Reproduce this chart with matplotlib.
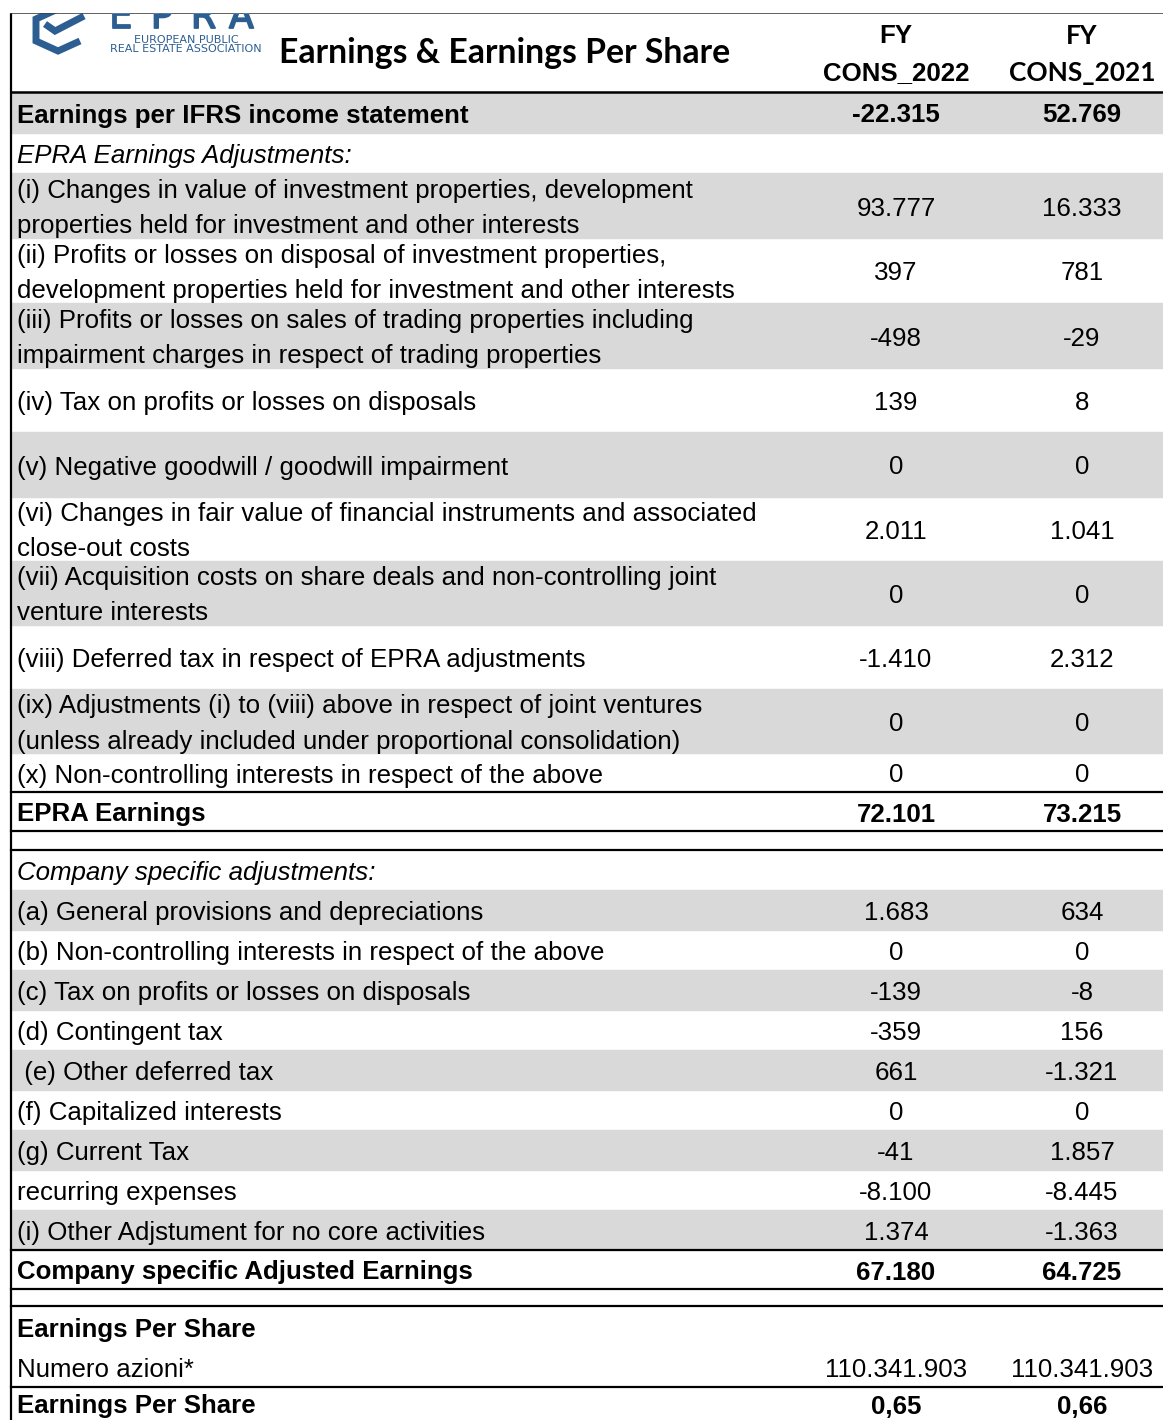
import matplotlib
matplotlib.use("Agg")
import matplotlib.pyplot as plt
import matplotlib.patheffects as pe
from matplotlib.patches import Rectangle

W, H = 1163, 1420

# ── Table data ─────────────────────────────────────
labels = [
    "Earnings per IFRS income statement",
    "EPRA Earnings Adjustments:",
    "(i) Changes in value of investment properties, development\nproperties held for investment and other interests",
    "(ii) Profits or losses on disposal of investment properties,\ndevelopment properties held for investment and other interests",
    "(iii) Profits or losses on sales of trading properties including\nimpairment charges in respect of trading properties",
    "(iv) Tax on profits or losses on disposals",
    "(v) Negative goodwill / goodwill impairment",
    "(vi) Changes in fair value of financial instruments and associated\nclose-out costs",
    "(vii) Acquisition costs on share deals and non-controlling joint\nventure interests",
    "(viii) Deferred tax in respect of EPRA adjustments",
    "(ix) Adjustments (i) to (viii) above in respect of joint ventures\n(unless already included under proportional consolidation)",
    "(x) Non-controlling interests in respect of the above",
    "EPRA Earnings",
    "",
    "Company specific adjustments:",
    "(a) General provisions and depreciations",
    "(b) Non-controlling interests in respect of the above",
    "(c) Tax on profits or losses on disposals",
    "(d) Contingent tax",
    " (e) Other deferred tax",
    "(f) Capitalized interests",
    "(g) Current Tax",
    "recurring expenses",
    "(i) Other Adjstument for no core activities",
    "Company specific Adjusted Earnings",
    "",
    "Earnings Per Share",
    "Numero azioni*",
    "Earnings Per Share",
]
fy2022 = ["-22.315", "", "93.777", "397", "-498", "139", "0", "2.011", "0",
          "-1.410", "0", "0", "72.101", "", "", "1.683", "0", "-139", "-359",
          "661", "0", "-41", "-8.100", "1.374", "67.180", "", "", "110.341.903",
          "0,65"]
fy2021 = ["52.769", "", "16.333", "781", "-29", "8", "0", "1.041", "0",
          "2.312", "0", "0", "73.215", "", "", "634", "0", "-8", "156",
          "-1.321", "0", "1.857", "-8.445", "-1.363", "64.725", "", "",
          "110.341.903", "0,66"]
col_headers = ["FY\nCONS_2022", "FY\nCONS_2021"]
title = "Earnings & Earnings Per Share"
logo_letters = ["E", "P", "R", "A"]
logo_lines = ["EUROPEAN PUBLIC", "REAL ESTATE ASSOCIATION"]

# ── Layout / styles (pixels) ───────────────────────
row_heights = [41, 40, 65, 65, 65, 64, 65, 64, 64, 64, 64, 39, 39, 19, 40,
               40, 40, 40, 40, 40, 40, 40, 40, 40, 39, 17, 41, 40, 33]
gray_rows = {0, 2, 4, 6, 8, 10, 15, 17, 19, 21, 23}
bold_rows = {0, 12, 24, 26, 28}
italic_rows = {1, 14}
line_below = {11, 12, 13, 23, 24, 25, 27}
TOP, HEAD_BOTTOM, LEFT = 12, 92, 11
COL_X = [896, 1082]
GRAY = "#d9d9d9"
BLUE = "#2c5e92"
BODY = "Liberation Sans"
FS = 18.6

fig = plt.figure(figsize=(W / 100, H / 100), dpi=100)
ax = fig.add_axes([0, 0, 1, 1])
ax.set_xlim(0, W)
ax.set_ylim(H, 0)
ax.axis("off")

# ── Logo (cut off by the top border, like the source) ──
ax.plot([60, 36, 36, 58, 80], [8, 19, 41, 51, 41], color=BLUE, lw=5,
        solid_joinstyle="miter", solid_capstyle="butt")
ax.plot([45, 55, 84], [24, 31, 16], color=BLUE, lw=5,
        solid_joinstyle="miter", solid_capstyle="butt")
thick = [pe.withStroke(linewidth=1.3, foreground=BLUE)]
for x, ch in zip([109, 151, 191, 229], logo_letters):
    ax.text(x, 28, ch, color=BLUE, fontsize=26, family="DejaVu Sans",
            va="baseline", ha="left", path_effects=thick)
ax.text(186, 40, logo_lines[0], color=BLUE, fontsize=8, ha="center",
        va="center", family="DejaVu Sans")
ax.text(186, 49, logo_lines[1], color=BLUE, fontsize=8, ha="center",
        va="center", family="DejaVu Sans")
ax.add_patch(Rectangle((0, 0), W, TOP, color="white", zorder=5))

# ── Header ─────────────────────────────────────────
ax.text(505, 53, title, fontsize=24.3, fontweight="bold", family="Lato",
        ha="center", va="center")
for cx, hdr, fam in zip(COL_X, col_headers, [BODY, "Lato"]):
    top, bottom = hdr.split("\n")
    ax.text(cx, 36, top, fontsize=FS, fontweight="bold", family=fam,
            ha="center", va="center")
    ax.text(cx, 73, bottom, fontsize=FS if fam == BODY else 18.9,
            fontweight="bold", family=fam, ha="center", va="center")

# ── Rows ───────────────────────────────────────────
y = HEAD_BOTTOM
for i, h in enumerate(row_heights):
    if i in gray_rows:
        ax.add_patch(Rectangle((LEFT, y), W - LEFT, h, color=GRAY, zorder=0))
    cy = y + h / 2 + 3
    weight = "bold" if i in bold_rows else "normal"
    style = "italic" if i in italic_rows else "normal"
    lines = labels[i].split("\n")
    for k, ln in enumerate(lines):
        ly = cy + (k - (len(lines) - 1) / 2) * 35
        ax.text(17, ly, ln, fontsize=FS, fontweight=weight, fontstyle=style,
                family=BODY, ha="left", va="center")
    for cx, v in zip(COL_X, (fy2022[i], fy2021[i])):
        ax.text(cx, cy, v, fontsize=FS, fontweight=weight, family=BODY,
                ha="center", va="center")
    y += h
    if i in line_below:
        ax.plot([LEFT, W], [y, y], color="black", lw=1.6)

# ── Borders ────────────────────────────────────────
ax.plot([LEFT, W], [TOP, TOP], color="black", lw=1.8)
ax.plot([LEFT, W], [HEAD_BOTTOM, HEAD_BOTTOM], color="black", lw=1.8)
ax.plot([LEFT, LEFT], [TOP, H], color="black", lw=1.6)

fig.savefig("out.png", dpi=100)
